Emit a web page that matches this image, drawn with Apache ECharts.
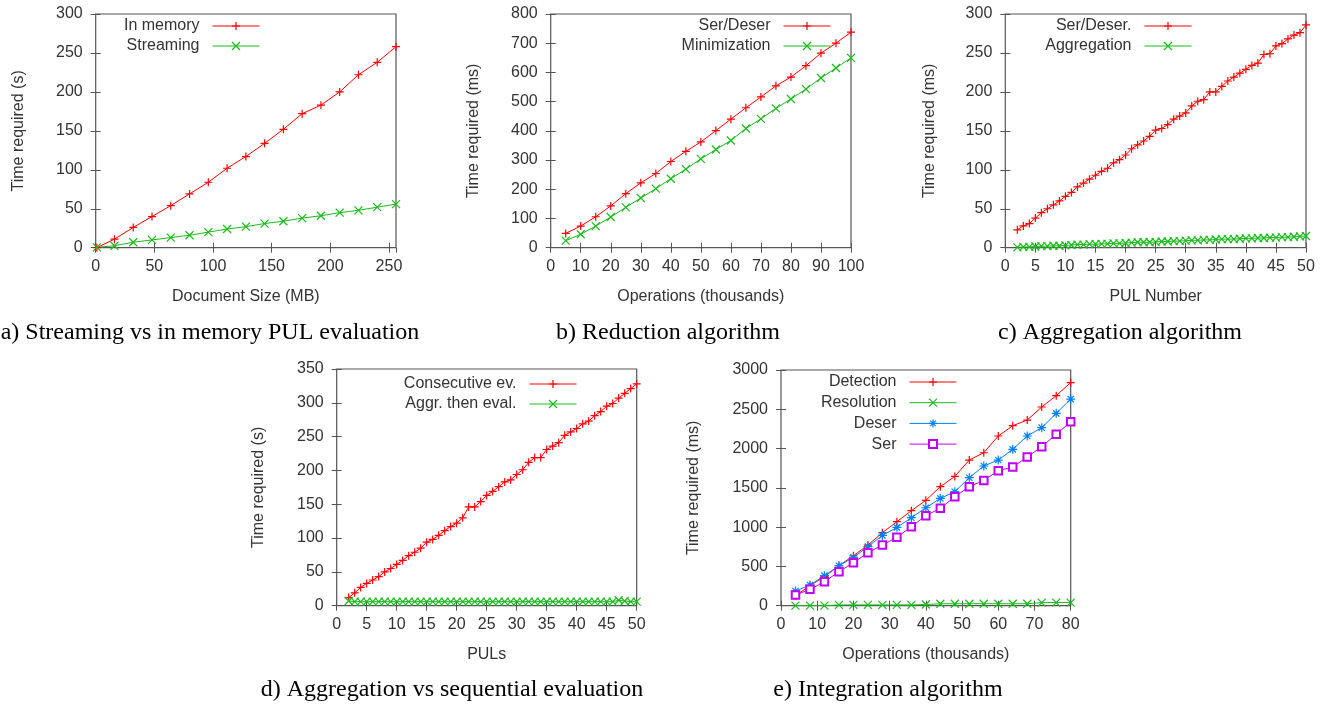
<!DOCTYPE html>
<html>
<head>
<meta charset="utf-8"/>
<title>PUL evaluation</title>
<script src="https://cdn.jsdelivr.net/npm/echarts@6/dist/echarts.min.js"></script>
<style>
  html, body { margin: 0; padding: 0; background: #fff; }
  #main { width: 1325px; height: 706px; }
</style>
</head>
<body>
<div id="main"></div>
<script type="text/javascript">
// a) streaming vs in memory
var sizeMB    = [1, 16, 32, 48, 64, 80, 96, 112, 128, 144, 160, 176, 192, 208, 224, 240, 256];
var inMemory  = [0, 11, 26, 40, 54, 69, 84, 102, 117, 134, 152, 172, 183, 200, 222, 238, 258];
var streaming = [0.5, 2.5, 7, 10, 13, 16, 20, 24, 27, 31, 34, 38, 41, 45, 48, 52, 56];

// b) reduction
var opsB         = [5, 10, 15, 20, 25, 30, 35, 40, 45, 50, 55, 60, 65, 70, 75, 80, 85, 90, 95, 100];
var serDeser     = [49, 74, 106, 143, 185, 222, 254, 295, 330, 362, 401, 440, 479, 516, 554, 584, 623, 666, 700, 738];
var minimization = [24, 46, 74, 105, 138, 170, 202, 236, 269, 304, 336, 367, 408, 441, 477, 509, 543, 581, 615, 650];

// c) aggregation
var pulC = [2, 3, 4, 5, 6, 7, 8, 9, 10, 11, 12, 13, 14, 15, 16, 17, 18, 19, 20, 21, 22, 23, 24, 25, 26,
            27, 28, 29, 30, 31, 32, 33, 34, 35, 36, 37, 38, 39, 40, 41, 42, 43, 44, 45, 46, 47, 48, 49, 50];
var serDeserC = [23, 28, 31, 38, 45, 50, 55, 60, 66, 71, 78, 83, 88, 93, 98, 102, 109, 113, 119, 127,
                 132, 137, 143, 151, 153, 158, 165, 169, 173, 182, 188, 190, 200, 200, 207, 214, 219, 224,
                 229, 234, 237, 248, 249, 259, 262, 268, 273, 276, 286];
var aggregation = [0.5, 1, 1, 1.5, 2, 2, 2.5, 2.5, 3, 3.5, 4, 4, 4.5, 4.5, 5, 5, 5.5, 5.5, 6, 6.5,
                   7, 7, 7, 7.5, 8, 8, 8.5, 8.5, 9, 9.5, 9.5, 10, 10, 10.5, 11, 11, 11, 11.5, 12, 12,
                   12.5, 12.5, 13, 13, 13.5, 13.5, 14, 14.5, 15];

// d) aggregation vs sequential
var pulsD = [2, 3, 4, 5, 6, 7, 8, 9, 10, 11, 12, 13, 14, 15, 16, 17, 18, 19, 20, 21, 22, 23, 24, 25, 26,
             27, 28, 29, 30, 31, 32, 33, 34, 35, 36, 37, 38, 39, 40, 41, 42, 43, 44, 45, 46, 47, 48, 49, 50];
var consecutive = [12, 19, 27, 33, 38, 43, 50, 55, 61, 67, 74, 79, 85, 94, 98, 104, 111, 117, 122, 130,
                   146, 146, 154, 163, 169, 176, 183, 186, 194, 201, 212, 219, 219, 231, 236, 241, 252, 257,
                   262, 269, 273, 281, 287, 295, 299, 307, 314, 321, 328];
var aggrThenEval = [7, 6, 6, 6, 6, 6, 6, 6, 6, 6, 6, 6, 6, 6, 6, 6, 6, 6, 6, 6,
                    6, 6, 6, 6, 6, 6, 6, 6, 6, 6, 6, 6, 6, 6, 6, 6, 6, 6, 6, 6,
                    6, 6, 6, 6, 6, 8, 7, 6, 6];

// e) integration
var opsE       = [4, 8, 12, 16, 20, 24, 28, 32, 36, 40, 44, 48, 52, 56, 60, 64, 68, 72, 76, 80];
var detection  = [127, 255, 369, 509, 636, 772, 929, 1069, 1209, 1341, 1515, 1646, 1854, 1947, 2160, 2291, 2363, 2529, 2673, 2840];
var resolution = [0, 0, 0, 10, 10, 10, 10, 10, 10, 15, 25, 25, 25, 25, 25, 25, 25, 40, 40, 40];
var deser      = [187, 263, 382, 509, 615, 751, 895, 997, 1120, 1247, 1366, 1451, 1629, 1778, 1854, 1990, 2160, 2266, 2448, 2630];
var ser        = [136, 208, 305, 433, 547, 675, 772, 870, 1006, 1146, 1239, 1387, 1515, 1595, 1718, 1765, 1892, 2024, 2181, 2340];

var RED = '#ff0000', GREEN = '#19bb19', BLUE = '#0080ff', MAGENTA = '#c000ff';
var PLUS  = 'path://M0,5L10,5M5,0L5,10';
var CROSS = 'path://M0,0L10,10M0,10L10,0';
var STAR  = 'path://M0,5L10,5M5,0L5,10M1.5,1.5L8.5,8.5M1.5,8.5L8.5,1.5';
var SANS = 'Liberation Sans';
var INK = '#333';

function pairs(xs, ys) {
    return xs.map(function (x, i) { return [x, ys[i]]; });
}
function plain(v) { return String(v); }

var grids = [
    {left: 95.7, top: 14, width: 300.3, height: 233.7},
    {left: 550.7, top: 14, width: 300.3, height: 233.7},
    {left: 1005.3, top: 14, width: 300.7, height: 233.7},
    {left: 336.7, top: 369, width: 300, height: 236.7},
    {left: 781, top: 370, width: 289.7, height: 235.7}
];
grids.forEach(function (g) {
    g.show = true;
    g.borderColor = '#555';
    g.borderWidth = 1.2;
    g.outerBoundsMode = 'none';
});

var xAxes = [], yAxes = [];
function addAxes(gi, xr, yr, xName, yName, yGap) {
    var tick = {inside: true, length: 5, lineStyle: {color: '#555', width: 1}};
    var label = {fontSize: 16, color: INK, fontFamily: SANS, formatter: plain};
    xAxes.push({
        gridIndex: gi, type: 'value', position: 'bottom',
        min: xr[0], max: xr[1], interval: xr[2],
        name: xName, nameLocation: 'middle', nameGap: 41,
        nameTextStyle: {fontSize: 16, color: INK, fontFamily: SANS},
        axisLabel: Object.assign({margin: 11, showMaxLabel: xr[3] !== false}, label),
        axisTick: tick, axisLine: {show: false}, splitLine: {show: false}
    });
    xAxes.push({
        gridIndex: gi, type: 'value', position: 'top',
        min: xr[0], max: xr[1], interval: xr[2],
        axisLabel: {show: false}, axisTick: tick, axisLine: {show: false}, splitLine: {show: false}
    });
    yAxes.push({
        gridIndex: gi, type: 'value', position: 'left',
        min: yr[0], max: yr[1], interval: yr[2],
        name: yName, nameLocation: 'middle', nameGap: yGap,
        nameTextStyle: {fontSize: 16, color: INK, fontFamily: SANS},
        axisLabel: Object.assign({margin: 13}, label),
        axisTick: tick, axisLine: {show: false}, splitLine: {show: false}
    });
    yAxes.push({
        gridIndex: gi, type: 'value', position: 'right',
        min: yr[0], max: yr[1], interval: yr[2],
        axisLabel: {show: false}, axisTick: tick, axisLine: {show: false}, splitLine: {show: false}
    });
}
addAxes(0, [0, 256, 50, false], [0, 300, 50], 'Document Size (MB)', 'Time required (s)', 68.7);
addAxes(1, [0, 100, 10], [0, 800, 100], 'Operations (thousands)', 'Time required (ms)', 68.7);
addAxes(2, [0, 50, 5], [0, 300, 50], 'PUL Number', 'Time required (ms)', 68);
addAxes(3, [0, 50, 5], [0, 350, 50], 'PULs', 'Time required (s)', 70);
addAxes(4, [0, 80, 10], [0, 3000, 500], 'Operations (thousands)', 'Time required (ms)', 79);

function line(gi, name, xs, ys, color, symbol, size) {
    return {
        name: name, type: 'line',
        xAxisIndex: gi * 2, yAxisIndex: gi * 2,
        data: pairs(xs, ys),
        symbol: symbol, symbolSize: size,
        showAllSymbol: true,
        lineStyle: {color: color, width: 1},
        itemStyle: {color: color, borderColor: color, borderWidth: 1.2},
        emphasis: {disabled: true}
    };
}

var series = [
    line(0, 'In memory', sizeMB, inMemory, RED, PLUS, 8),
    line(0, 'Streaming', sizeMB, streaming, GREEN, CROSS, 8),
    line(1, 'Ser/Deser', opsB, serDeser, RED, PLUS, 8),
    line(1, 'Minimization', opsB, minimization, GREEN, CROSS, 8),
    line(2, 'Ser/Deser.', pulC, serDeserC, RED, PLUS, 8),
    line(2, 'Aggregation', pulC, aggregation, GREEN, CROSS, 8),
    line(3, 'Consecutive ev.', pulsD, consecutive, RED, PLUS, 8),
    line(3, 'Aggr. then eval.', pulsD, aggrThenEval, GREEN, CROSS, 8),
    line(4, 'Detection', opsE, detection, RED, PLUS, 8),
    line(4, 'Resolution', opsE, resolution, GREEN, CROSS, 8),
    line(4, 'Deser', opsE, deser, BLUE, STAR, 9),
    line(4, 'Ser', opsE, ser, MAGENTA, 'emptyRect', 7.5)
];

function legend(names, right, top, gap) {
    return {
        data: names, orient: 'vertical', align: 'right',
        right: right, top: top, padding: 0,
        itemWidth: 47, itemHeight: 10, itemGap: gap,
        selectedMode: false,
        textStyle: {fontSize: 16, color: INK, fontFamily: SANS, padding: [0, 8, 0, 0]},
        lineStyle: {width: 1},
        itemStyle: {borderWidth: 1.2}
    };
}

var captions = [
    ['a) Streaming vs in memory PUL evaluation', 210, 333],
    ['b) Reduction algorithm', 668, 333],
    ['c) Aggregation algorithm', 1120, 333],
    ['d) Aggregation vs sequential evaluation', 452, 690],
    ['e) Integration algorithm', 888, 690]
];

var option = {
    animation: false,
    backgroundColor: '#fff',
    grid: grids,
    xAxis: xAxes,
    yAxis: yAxes,
    legend: [
        legend(['In memory', 'Streaming'], 1065, 18, 4),
        legend(['Ser/Deser', 'Minimization'], 494, 18, 4),
        legend(['Ser/Deser.', 'Aggregation'], 133, 18, 4),
        legend(['Consecutive ev.', 'Aggr. then eval.'], 748, 376, 4),
        legend(['Detection', 'Resolution', 'Deser', 'Ser'], 368, 374, 4.7)
    ],
    series: series,
    graphic: captions.map(function (c) {
        return {
            type: 'text', x: c[1], y: c[2],
            style: {
                text: c[0], fill: '#000',
                font: '24px "Liberation Serif"',
                textAlign: 'center', textVerticalAlign: 'middle'
            }
        };
    })
};

var chart = echarts.init(document.getElementById('main'));
chart.setOption(option);
</script>
</body>
</html>
